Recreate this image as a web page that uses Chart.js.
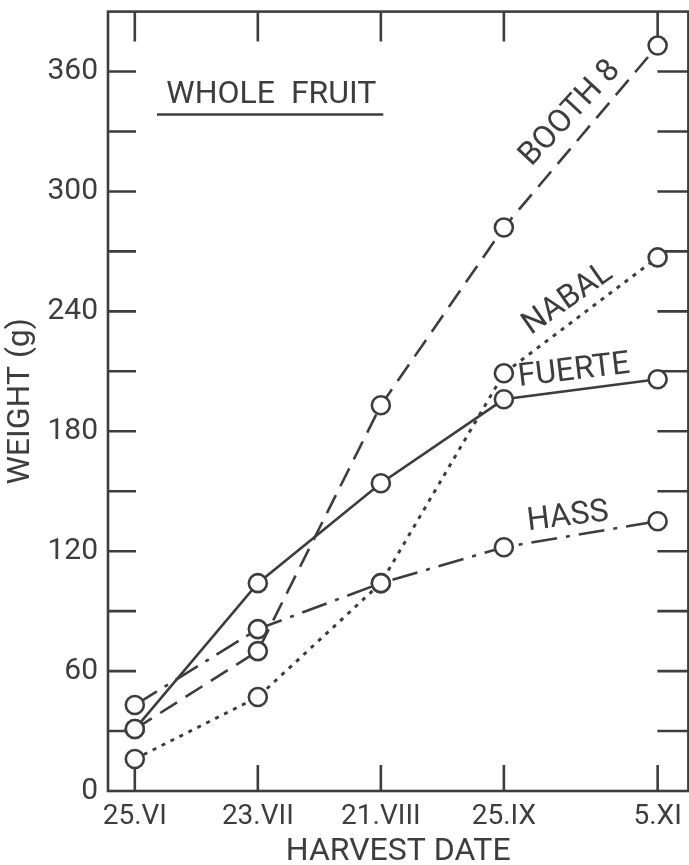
<!DOCTYPE html>
<html>
<head>
<meta charset="utf-8">
<title>Whole fruit weight</title>
<script src="https://cdn.jsdelivr.net/npm/chart.js@4.4.1/dist/chart.umd.min.js"></script>
<style>
  html, body { margin: 0; padding: 0; background: #fff; overflow: hidden; }
  canvas { display: block; }
</style>
</head>
<body>
<canvas id="fruitChart" width="700" height="865"></canvas>
<script>
// Harvest dates and where each one sits on the date axis (not evenly spaced in the figure)
const harvestDates = ['25.VI', '23.VII', '21.VIII', '25.IX', '5.XI'];
const datePositions = [0, 1, 2, 3, 4.25];

// Whole fruit weight (g) per cultivar
const booth8 = [31, 70, 193, 282, 373];
const nabal = [16, 47, 104, 209, 267];
const fuerte = [31, 104, 154, 196, 206];
const hass = [43, 81, 104, 122, 135];

const ink = '#3d3d3d';
const fontFamily = 'Roboto, "Liberation Sans", sans-serif';

const toPoints = vals => vals.map((v, i) => ({ x: datePositions[i], y: v }));

function series(label, vals, dash, width) {
  return {
    label: label,
    data: toPoints(vals),
    borderColor: ink,
    borderWidth: width,
    borderDash: dash,
    borderCapStyle: 'butt',
    pointRadius: 9,
    pointHoverRadius: 9,
    pointBorderWidth: 2.6,
    pointBorderColor: ink,
    pointBackgroundColor: '#fff',
    tension: 0,
    fill: false
  };
}

// text written on the plot, placed in data units
const seriesLabels = [
  { text: 'BOOTH 8', x: 3.54, y: 339, angle: -47 },
  { text: 'NABAL', x: 3.52, y: 246, angle: -35 },
  { text: 'FUERTE', x: 3.57, y: 210, angle: -7 },
  { text: 'HASS', x: 3.52, y: 137, angle: -7 }
];

// frame with inward ticks on all four sides
const framePlugin = {
  id: 'framePlugin',
  beforeDatasetsDraw(chart) {
    const { ctx, chartArea: a, scales: { x, y } } = chart;
    ctx.save();
    ctx.strokeStyle = ink;
    ctx.lineWidth = 2.6;
    ctx.strokeRect(a.left, a.top, a.right - a.left, a.bottom - a.top);
    ctx.beginPath();
    datePositions.forEach(p => {
      const px = x.getPixelForValue(p);
      ctx.moveTo(px, a.bottom);
      ctx.lineTo(px, a.bottom - 26);
      ctx.moveTo(px, a.top);
      ctx.lineTo(px, a.top + 30);
    });
    y.ticks.forEach(t => {
      if (t.value <= y.min || t.value >= y.max) return;
      const py = y.getPixelForValue(t.value);
      ctx.moveTo(a.left, py);
      ctx.lineTo(a.left + 28, py);
      ctx.moveTo(a.right, py);
      ctx.lineTo(a.right - 31, py);
    });
    ctx.stroke();
    ctx.restore();
  },
  afterDatasetsDraw(chart) {
    const { ctx, scales: { x, y } } = chart;
    ctx.save();
    ctx.fillStyle = ink;
    ctx.strokeStyle = ink;
    ctx.font = '32px ' + fontFamily;
    ctx.textAlign = 'center';
    ctx.textBaseline = 'middle';

    // panel title with underline
    ctx.fillText('WHOLE  FRUIT', x.getPixelForValue(1.11), y.getPixelForValue(348.5));
    ctx.lineWidth = 2.6;
    ctx.beginPath();
    ctx.moveTo(x.getPixelForValue(0.18), y.getPixelForValue(338.5));
    ctx.lineTo(x.getPixelForValue(2.02), y.getPixelForValue(338.5));
    ctx.stroke();

    seriesLabels.forEach(l => {
      ctx.save();
      ctx.translate(x.getPixelForValue(l.x), y.getPixelForValue(l.y));
      ctx.rotate(l.angle * Math.PI / 180);
      ctx.fillText(l.text, 0, 0);
      ctx.restore();
    });
    ctx.restore();
  }
};

const noEdgePadding = s => {
  s.paddingTop = 0;
  s.paddingBottom = 0;
  s.paddingLeft = 0;
  s.paddingRight = 0;
};

const ctx = document.getElementById('fruitChart').getContext('2d');
const fruitChart = new Chart(ctx, {
  type: 'line',
  data: {
    datasets: [
      series('Fuerte', fuerte, [], 2.6),
      series('Booth 8', booth8, [20, 10], 2.6),
      series('Hass', hass, [26, 9, 4, 9], 2.6),
      series('Nabal', nabal, [4, 6], 3)
    ]
  },
  options: {
    responsive: false,
    animation: false,
    layout: { padding: { top: 11, right: 7, left: 0, bottom: 0 } },
    plugins: {
      legend: { display: false },
      tooltip: { enabled: false }
    },
    scales: {
      x: {
        type: 'linear',
        min: -0.218,
        max: 4.5,
        afterBuildTicks: s => { s.ticks = datePositions.map(v => ({ value: v })); },
        afterFit: s => { s.height = 74; noEdgePadding(s); },
        grid: { display: false, drawTicks: false },
        border: { display: false },
        ticks: {
          autoSkip: false,
          maxRotation: 0,
          padding: 9,
          color: ink,
          font: { family: fontFamily, size: 28 },
          callback: v => harvestDates[datePositions.indexOf(v)]
        },
        title: {
          display: true,
          text: 'HARVEST DATE',
          color: ink,
          font: { family: fontFamily, size: 32, lineHeight: 0.8 },
          padding: { top: 0, bottom: 0 }
        }
      },
      y: {
        min: 0,
        max: 390,
        afterFit: s => { s.width = 108; noEdgePadding(s); },
        grid: { display: false, drawTicks: false },
        border: { display: false },
        ticks: {
          stepSize: 30,
          padding: 10,
          color: ink,
          font: { family: fontFamily, size: 30 },
          callback: v => (v % 60 === 0 ? v : '')
        },
        title: {
          display: true,
          text: 'WEIGHT (g)',
          color: ink,
          font: { family: fontFamily, size: 32, lineHeight: 1.2 },
          padding: { top: 2, bottom: 0 }
        }
      }
    }
  },
  plugins: [framePlugin]
});
</script>
</body>
</html>
